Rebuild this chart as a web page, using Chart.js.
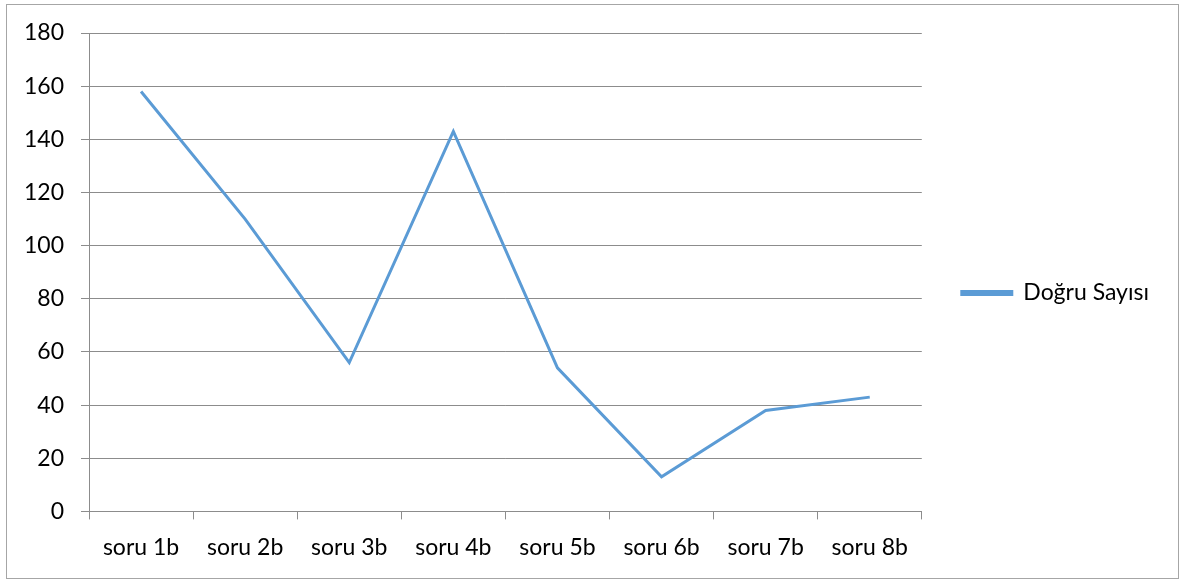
<!DOCTYPE html>
<html>
<head>
<meta charset="utf-8">
<script src="https://cdn.jsdelivr.net/npm/chart.js@4"></script>
<style>
  html, body { margin: 0; padding: 0; background: #fff; }
  #wrap { position: relative; width: 1184px; height: 581px; }
  #frame { position: absolute; left: 6px; top: 4px; width: 1171px; height: 573px; border: 1px solid #a6a6a6; pointer-events: none; }
</style>
</head>
<body>
<div id="wrap">
  <canvas id="lineChart" width="1184" height="581"></canvas>
  <div id="frame"></div>
</div>
<script>
  // Chart data
  const categories = ['soru 1b', 'soru 2b', 'soru 3b', 'soru 4b', 'soru 5b', 'soru 6b', 'soru 7b', 'soru 8b'];
  const dogruSayisi = [158, 110, 56, 143, 54, 13, 38, 43];
  const seriesName = 'Doğru Sayısı';

  const gridColor = '#8c8c8c';
  const textFont = { family: 'Lato', size: 23 };

  // Nudge the legend up a little so it sits level with the plot like in Excel
  const legendNudge = {
    id: 'legendNudge',
    afterLayout(chart) {
      if (chart.legend) {
        chart.legend.top -= 11;
        chart.legend.bottom -= 11;
      }
    }
  };

  const ctx = document.getElementById('lineChart').getContext('2d');
  const lineChart = new Chart(ctx, {
    type: 'line',
    data: {
      labels: categories,
      datasets: [{
        label: seriesName,
        data: dogruSayisi,
        borderColor: '#5b9bd5',
        backgroundColor: '#5b9bd5',
        borderWidth: 3,
        pointRadius: 0,
        tension: 0
      }]
    },
    options: {
      responsive: false,
      animation: false,
      layout: {
        padding: { left: 0, top: 33, right: 25, bottom: 6 }
      },
      plugins: {
        legend: {
          position: 'right',
          labels: {
            boxWidth: 50,
            boxHeight: 3,
            padding: 40,
            color: '#000',
            font: textFont
          }
        },
        tooltip: { enabled: false }
      },
      scales: {
        x: {
          offset: true,
          grid: {
            offset: true,
            drawOnChartArea: false,
            tickLength: 8,
            color: gridColor
          },
          border: { color: gridColor },
          ticks: { color: '#000', font: textFont, padding: 14, maxRotation: 0 }
        },
        y: {
          min: 0,
          max: 180,
          afterFit: function(scale) { scale.width = 89; },
          grid: { tickLength: 8, color: gridColor },
          border: { color: gridColor },
          ticks: { stepSize: 20, color: '#000', font: textFont, padding: 17 }
        }
      }
    },
    plugins: [legendNudge]
  });
</script>
</body>
</html>
